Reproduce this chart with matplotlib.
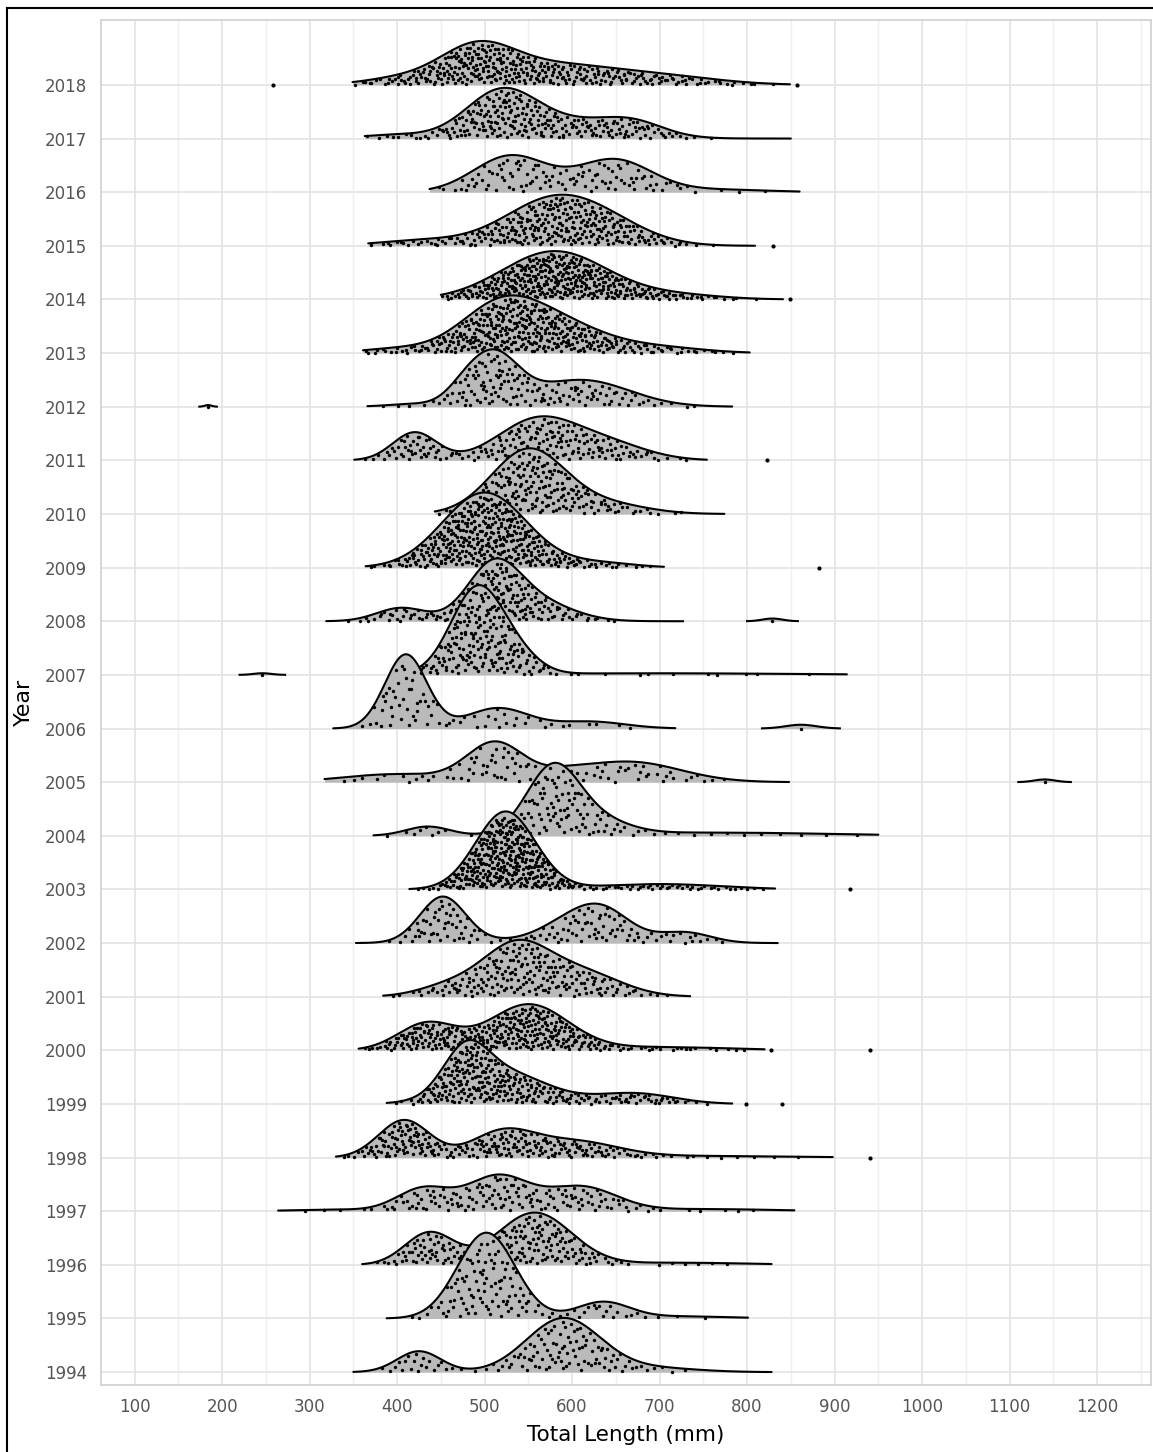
'''
Ridgeline plot of total length by year (1994-2018)
'''
import numpy as np
import matplotlib
matplotlib.use('Agg')
from matplotlib import pyplot as plt
from matplotlib.lines import Line2D


years = list(range(1994, 2019))

# span of each ridge (mm)
ridge_lo = [350, 388, 360, 264, 330, 388, 356, 384, 353, 414, 373, 317, 327,
            415, 319, 364, 443, 351, 366, 361, 450, 367, 437, 363, 349]
ridge_hi = [828, 801, 828, 854, 898, 783, 820, 735, 835, 832, 950, 848, 718,
            914, 727, 705, 774, 754, 783, 803, 841, 809, 860, 850, 849]

# ridge shape: (centre mm, spread mm, height in rows)
ridge_parts = [
    [(425, 25, 0.39), (590, 42, 1.00), (690, 50, 0.08)],                       # 1994
    [(502, 33, 1.60), (635, 30, 0.30), (720, 60, 0.04)],                       # 1995
    [(437, 28, 0.60), (557, 42, 0.97), (720, 80, 0.04)],                       # 1996
    [(430, 30, 0.42), (515, 35, 0.65), (610, 40, 0.45), (330, 50, 0.03), (750, 80, 0.04)],  # 1997
    [(408, 29, 0.70), (520, 35, 0.45), (600, 50, 0.30), (750, 100, 0.03)],     # 1998
    [(478, 25, 0.75), (520, 50, 0.60), (670, 45, 0.20)],                       # 1999
    [(434, 33, 0.50), (550, 45, 0.85), (700, 80, 0.06)],                       # 2000
    [(535, 38, 0.92), (610, 45, 0.45), (460, 35, 0.20)],                       # 2001
    [(452, 26, 0.85), (632, 33, 0.65), (585, 30, 0.20), (728, 30, 0.20), (540, 60, 0.05)],  # 2002
    [(524, 34, 1.45), (700, 70, 0.10)],                                        # 2003
    [(578, 30, 1.25), (630, 35, 0.25), (435, 25, 0.17), (760, 130, 0.06)],     # 2004
    [(512, 32, 0.72), (665, 58, 0.38), (400, 60, 0.15), (590, 30, 0.10)],      # 2005
    [(410, 24, 1.38), (515, 35, 0.38), (620, 40, 0.13)],                       # 2006
    [(492, 30, 1.62), (540, 25, 0.25), (700, 150, 0.03)],                      # 2007
    [(510, 30, 1.00), (560, 40, 0.35), (405, 28, 0.25)],                       # 2008
    [(500, 48, 1.40), (630, 40, 0.09)],                                        # 2009
    [(550, 42, 1.20), (640, 45, 0.18)],                                        # 2010
    [(420, 25, 0.52), (560, 45, 0.75), (640, 45, 0.30)],                       # 2011
    [(510, 28, 0.93), (610, 55, 0.50), (475, 20, 0.20), (420, 30, 0.05)],      # 2012
    [(515, 45, 0.75), (580, 55, 0.55), (400, 40, 0.08), (700, 50, 0.10)],      # 2013
    [(580, 60, 0.90), (720, 50, 0.08)],                                        # 2014
    [(575, 55, 0.80), (640, 50, 0.30), (430, 50, 0.10)],                       # 2015
    [(530, 42, 0.68), (648, 42, 0.60), (760, 60, 0.05)],                       # 2016
    [(518, 40, 0.82), (600, 60, 0.30), (670, 35, 0.22), (400, 40, 0.07)],      # 2017
    [(490, 42, 0.60), (580, 80, 0.38), (720, 60, 0.10), (400, 40, 0.10)],      # 2018
]

# number of fish measured per year (estimated from the dots)
n_fish = [120, 120, 200, 150, 250, 300, 350, 200, 130, 400, 120, 90, 70,
          200, 200, 400, 200, 200, 150, 400, 400, 300, 110, 250, 350]

# small separate bumps: year, lo, hi, height in rows
island_year = [2012, 2007, 2008, 2006, 2005]
island_lo = [174, 220, 800, 817, 1110]
island_hi = [194, 272, 858, 906, 1170]
island_h = [0.03, 0.03, 0.05, 0.07, 0.05]

# single fish outside the ridges
outlier_year = [2018, 2018, 2015, 2014, 2011, 2009, 2003, 2000, 2000, 1999, 1999, 1998]
outlier_mm = [258, 857, 830, 849, 823, 882, 918, 827, 940, 799, 840, 940]


def ridge(x, parts):
    y = np.zeros_like(x, dtype=float)
    for mu, sd, h in parts:
        y += h * np.exp(-0.5 * ((x - mu) / sd) ** 2)
    return y


def halton(n, base, skip):
    out = np.zeros(n)
    for k in range(n):
        i = k + skip
        f, v = 1.0, 0.0
        while i > 0:
            f /= base
            v += f * (i % base)
            i //= base
        out[k] = v
    return out


FILL = '#bababa'

fig = plt.figure(figsize=(11.53, 14.52), dpi=100)
ax = fig.add_axes([101 / 1153, 1 - 1385 / 1452, 1050 / 1153, 1365 / 1452])

for i, yr in enumerate(years):
    r = yr - 1994
    z = 10 + (24 - r) * 3
    xs = np.linspace(ridge_lo[i], ridge_hi[i], 600)
    ys = ridge(xs, ridge_parts[i])
    ax.fill_between(xs, r, r + ys, color=FILL, lw=0, zorder=z)
    ax.plot(xs, r + ys, color='black', lw=1.5, zorder=z + 1, solid_capstyle='round')

    # dots spread inside the ridge
    fine = np.linspace(ridge_lo[i], ridge_hi[i], 3000)
    cdf = np.cumsum(ridge(fine, ridge_parts[i]))
    cdf = cdf / cdf[-1]
    p = halton(n_fish[i], 2, 7 + i * 13)
    px = np.interp(p, cdf, fine)
    frac = halton(n_fish[i], 3, 11 + i * 17)
    py = r + (0.03 + 0.92 * frac) * ridge(px, ridge_parts[i])
    ax.scatter(px, py, s=6, color='black', lw=0, zorder=z + 2)

for yr, lo, hi, h in zip(island_year, island_lo, island_hi, island_h):
    r = yr - 1994
    z = 10 + (24 - r) * 3
    xs = np.linspace(lo, hi, 100)
    ys = h * np.exp(-0.5 * ((xs - (lo + hi) / 2) / ((hi - lo) / 5)) ** 2)
    ax.fill_between(xs, r, r + ys, color=FILL, lw=0, zorder=z)
    ax.plot(xs, r + ys, color='black', lw=1.5, zorder=z + 1)
    ax.scatter([(lo + hi) / 2], [r], s=6, color='black', lw=0, zorder=z + 2)

ax.scatter(outlier_mm, [y - 1994 for y in outlier_year], s=9, color='black', lw=0, zorder=200)

ax.set_xlim(61.6, 1261.6)
ax.set_ylim(-0.24, 25.21)
ax.set_xticks(range(100, 1300, 100))
ax.set_xticks(range(150, 1300, 100), minor=True)
ax.set_yticks(range(len(years)))
ax.set_yticklabels([str(y) for y in years])
ax.grid(True, which='major', color='#e3e3e3', lw=1.2, zorder=0)
ax.grid(True, which='minor', axis='x', color='#efefef', lw=1.0, zorder=0)
ax.set_axisbelow(True)
ax.tick_params(axis='both', which='both', length=0, labelsize=12, labelcolor='#555555')
ax.tick_params(axis='y', pad=10)
ax.tick_params(axis='x', pad=9)
for s in ax.spines.values():
    s.set_color('#cfcfcf')
    s.set_linewidth(1.2)

ax.set_xlabel('Total Length (mm)', fontsize=15.5, labelpad=7)
ax.set_ylabel('Year', fontsize=16, labelpad=8)

# black frame on top and left of the picture
fig.add_artist(Line2D([7 / 1153, 7 / 1153], [0, 1 - 8 / 1452], color='black', lw=1.5))
fig.add_artist(Line2D([7 / 1153, 1], [1 - 8 / 1452, 1 - 8 / 1452], color='black', lw=1.5))

plt.savefig('out.png', dpi=100)
